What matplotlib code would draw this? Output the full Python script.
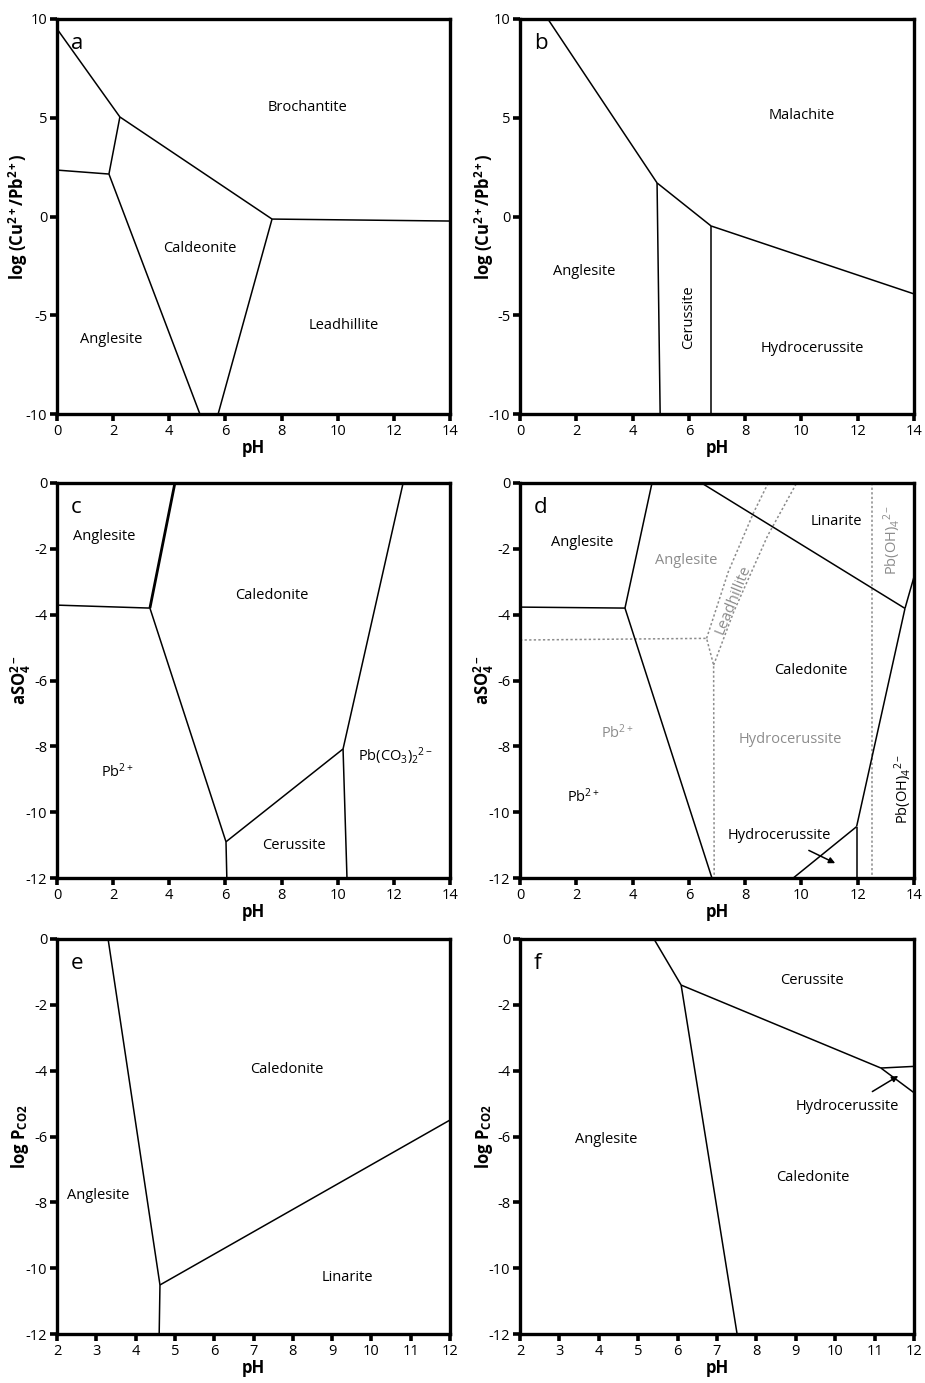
#Stability diagrams of Pb / Cu phases vs pH (six panels)

import matplotlib.pyplot as plt
import matplotlib as mpl

mpl.rcParams['font.family'] = ['Open Sans', 'DejaVu Sans']
mpl.rcParams['mathtext.fontset'] = 'custom'
mpl.rcParams['mathtext.rm'] = 'Open Sans'
mpl.rcParams['mathtext.it'] = 'Open Sans:italic'
mpl.rcParams['mathtext.bf'] = 'Open Sans:bold'
mpl.rcParams['axes.unicode_minus'] = False

GREY = '#8c8c8c'

#Panel a: log(Cu2+/Pb2+) vs pH
a_lines = [
    ([0.0, 2.24], [9.5, 5.04]),
    ([2.24, 1.85], [5.04, 2.15]),
    ([0.0, 1.85], [2.35, 2.15]),
    ([1.85, 5.09], [2.15, -10.0]),
    ([2.24, 7.66], [5.04, -0.13]),
    ([7.66, 5.74], [-0.13, -10.0]),
    ([7.66, 14.0], [-0.13, -0.23]),
]
a_labels = [('Brochantite', 8.94, 5.54), ('Caldeonite', 5.1, -1.6),
            ('Leadhillite', 10.2, -5.5), ('Anglesite', 1.92, -6.25)]

#Panel b
b_lines = [
    ([0.99, 4.87], [10.0, 1.7]),
    ([4.87, 6.79], [1.7, -0.48]),
    ([6.79, 14.0], [-0.48, -3.92]),
    ([4.87, 4.98], [1.7, -10.0]),
    ([6.79, 6.79], [-0.48, -10.0]),
]
b_labels = [('Malachite', 10.0, 5.1), ('Anglesite', 2.27, -2.8),
            ('Hydrocerussite', 10.4, -6.66)]

#Panel c: aSO4 vs pH
c_lines = [
    ([0.0, 3.31], [-3.71, -3.8]),
    ([3.31, 6.02], [-3.8, -10.9]),
    ([6.02, 6.05], [-10.9, -12.0]),
    ([6.02, 10.19], [-10.9, -8.08]),
    ([10.19, 12.33], [-8.08, 0.0]),
    ([10.19, 10.33], [-8.08, -12.0]),
]
c_thick = ([3.31, 4.2], [-3.8, 0.0])
c_labels = [('Anglesite', 1.68, -1.64), ('Caledonite', 7.66, -3.43),
            (r'Pb$^{2+}$', 2.14, -8.78), (r'Pb(CO$_3$)$_2$$^{2-}$', 12.04, -8.3),
            ('Cerussite', 8.45, -11.0)]

#Panel d
d_lines = [
    ([0.0, 3.73], [-3.77, -3.8]),
    ([3.73, 4.69], [-3.8, 0.0]),
    ([3.73, 6.82], [-3.8, -12.0]),
    ([6.45, 13.68], [0.0, -3.81]),
    ([13.68, 14.0], [-3.81, -2.85]),
    ([13.68, 11.96], [-3.81, -10.44]),
    ([11.96, 11.96], [-10.44, -12.0]),
    ([11.96, 9.71], [-10.44, -12.0]),
]
d_dotted = [
    ([0.0, 6.63, 6.88, 6.9], [-4.77, -4.72, -5.53, -12.0]),
    ([6.63, 7.4, 8.3, 8.82], [-4.72, -2.7, -0.9, 0.0]),
    ([6.88, 7.6, 8.8, 9.83], [-5.53, -3.9, -1.6, 0.0]),
    ([12.52, 12.52], [0.0, -12.0]),
]
d_labels_black = [('Anglesite', 2.2, -1.8), ('Linarite', 11.23, -1.18),
                  ('Caledonite', 10.34, -5.71), (r'Pb$^{2+}$', 2.27, -9.54)]
d_labels_grey = [('Anglesite', 5.9, -2.35), (r'Pb$^{2+}$', 3.45, -7.6),
                 ('Hydrocerussite', 9.6, -7.78)]

#Panel e: log PCO2 vs pH
e_lines = [
    ([3.3, 4.62], [0.0, -10.51]),
    ([4.62, 4.6], [-10.51, -12.0]),
    ([4.62, 12.0], [-10.51, -5.5]),
]
e_labels = [('Caledonite', 7.85, -3.95), ('Anglesite', 3.04, -7.78),
            ('Linarite', 9.38, -10.27)]

#Panel f
f_lines = [
    ([5.4, 6.09], [0.0, -1.4]),
    ([6.09, 7.51], [-1.4, -12.0]),
    ([6.09, 11.16], [-1.4, -3.92]),
    ([11.16, 12.0], [-3.92, -3.87]),
    ([11.16, 12.0], [-3.92, -4.67]),
]
f_labels = [('Cerussite', 9.41, -1.25), ('Anglesite', 4.18, -6.08),
            ('Caledonite', 9.44, -7.26)]

W, H = 925, 1383
fig = plt.figure(figsize=(W / 100, H / 100), dpi=100)


def make_axes(left, top, right, bottom):
    return fig.add_axes([left / W, 1 - bottom / H, (right - left) / W, (bottom - top) / H])


def style(ax, xlim, ylim, xticks, yticks, ylabel, letter, ylab_x):
    ax.set_xlim(xlim)
    ax.set_ylim(ylim)
    ax.set_xticks(xticks)
    ax.set_yticks(yticks)
    for s in ax.spines.values():
        s.set_linewidth(2.4)
    ax.tick_params(direction='out', length=5, width=2.6, labelsize=10.5, pad=2)
    ax.set_xlabel('pH', fontsize=12, fontweight='bold', labelpad=0)
    ax.set_ylabel(ylabel, fontsize=12, fontweight='bold')
    # place the y label by its centre, in pixels left of the spine
    ax.yaxis.label.set_va('center')
    ax.yaxis.set_label_coords(ylab_x / 393.0, 0.5)
    ax.text(0.035, 0.965, letter, transform=ax.transAxes, fontsize=16,
            va='top', ha='left')


def draw(ax, lines, lw=1.1, **kw):
    for xs, ys in lines:
        ax.plot(xs, ys, color='black', lw=lw, solid_capstyle='butt', **kw)


def label(ax, items, color='black', **kw):
    for t, x, y in items:
        ax.text(x, y, t, color=color, fontsize=10.5, ha='center', va='center', **kw)


ylab_cu = r'log (Cu$^{\mathbf{2+}}$/Pb$^{\mathbf{2+}}$)'
ylab_so4 = r'aSO$_{\mathbf{4}}^{\mathbf{2-}}$'
ylab_co2 = r'log P$_{\mathbf{CO2}}$'

# a
ax = make_axes(57, 19, 450, 414)
style(ax, (0, 14), (-10, 10), range(0, 15, 2), range(-10, 11, 5), ylab_cu, 'a', -39)
draw(ax, a_lines)
label(ax, a_labels)

# b
ax = make_axes(520, 19, 914, 414)
style(ax, (0, 14), (-10, 10), range(0, 15, 2), range(-10, 11, 5), ylab_cu, 'b', -36)
draw(ax, b_lines)
label(ax, b_labels)
ax.text(6.0, -5.1, 'Cerussite', rotation=90, fontsize=10.5, ha='center', va='center')

# c
ax = make_axes(57, 483, 450, 878)
style(ax, (0, 14), (-12, 0), range(0, 15, 2), range(-12, 1, 2), ylab_so4, 'c', -36)
draw(ax, c_lines)
draw(ax, [c_thick], lw=2.0)
label(ax, c_labels)

# d
ax = make_axes(520, 483, 914, 878)
style(ax, (0, 14), (-12, 0), range(0, 15, 2), range(-12, 1, 2), ylab_so4, 'd', -36)
for xs, ys in d_dotted:
    ax.plot(xs, ys, color=GREY, lw=1.1, ls=(0, (1.5, 1.5)))
draw(ax, d_lines)
label(ax, d_labels_black)
label(ax, d_labels_grey, color=GREY)
ax.text(7.58, -3.55, 'Leadhillite', color=GREY, rotation=68, fontsize=11,
        ha='center', va='center')
ax.text(13.22, -1.73, r'Pb(OH)$_4$$^{2-}$', color=GREY, rotation=90, fontsize=10.5,
        ha='center', va='center')
ax.text(13.6, -9.3, r'Pb(OH)$_4$$^{2-}$', rotation=90, fontsize=10.5,
        ha='center', va='center')
ax.annotate('Hydrocerussite', xy=(11.2, -11.55), xytext=(9.2, -10.72),
            fontsize=10.5, ha='center', va='center',
            arrowprops=dict(arrowstyle='-|>', color='black', lw=1.1,
                            shrinkA=7, shrinkB=0, mutation_scale=9))

# e
ax = make_axes(57, 939, 450, 1334)
style(ax, (2, 12), (-12, 0), range(2, 13), range(-12, 1, 2), ylab_co2, 'e', -37)
draw(ax, e_lines)
label(ax, e_labels)

# f
ax = make_axes(520, 939, 914, 1334)
style(ax, (2, 12), (-12, 0), range(2, 13), range(-12, 1, 2), ylab_co2, 'f', -36)
draw(ax, f_lines)
label(ax, f_labels)
ax.annotate('Hydrocerussite', xy=(11.6, -4.16), xytext=(10.3, -5.1),
            fontsize=10.5, ha='center', va='center',
            arrowprops=dict(arrowstyle='-|>', color='black', lw=1.1,
                            shrinkA=7, shrinkB=0, mutation_scale=9))

plt.savefig('out.png', dpi=100)
